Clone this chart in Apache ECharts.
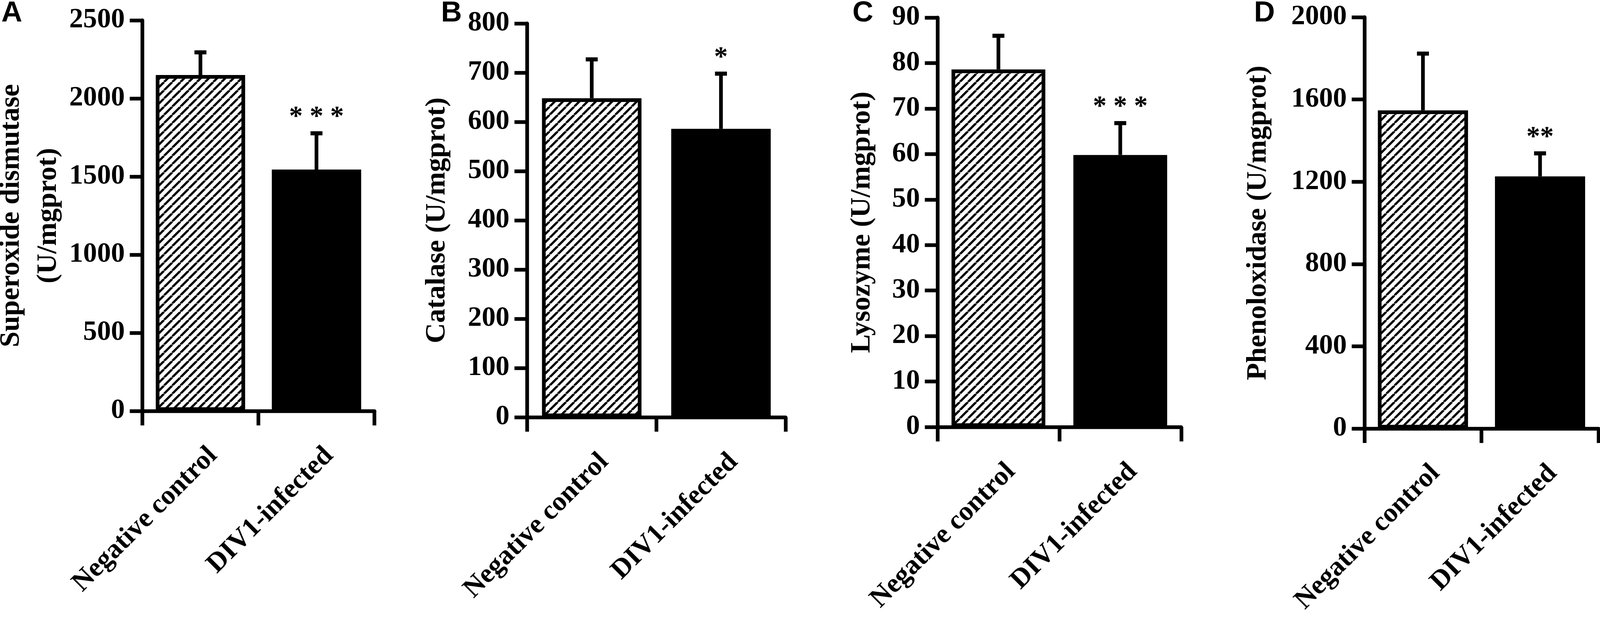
<!DOCTYPE html>
<html>
<head>
<meta charset="utf-8">
<title>Enzyme activity</title>
<script src="https://cdn.jsdelivr.net/npm/echarts@6/dist/echarts.min.js"></script>
<style>
html, body { margin: 0; padding: 0; background: #fff; overflow: hidden; }
#main { width: 100vw; height: 100vh; }
</style>
</head>
<body>
<div id="main"></div>
<script>
// groups on the x axis
var groups = ['Negative control', 'DIV1-infected'];

// mean and upper error (SD)
var sodMean = [2150, 1545];
var sodSd = [145, 232];
var catMean = [648, 586];
var catSd = [79, 112];
var lysMean = [78.6, 59.8];
var lysSd = [7.4, 7.0];
var poMean = [1547, 1226];
var poSd = [276, 112];

// y axis ranges
var yMax = [2500, 800, 90, 2000];
var yStep = [500, 100, 10, 400];

var yNames = ['Superoxide dismutase\n(U/mgprot)', 'Catalase (U/mgprot)', 'Lysozyme (U/mgprot)', 'Phenoloxidase (U/mgprot)'];
var letters = ['A', 'B', 'C', 'D'];
var stars = ['* * *', '*', '* * *', '**'];

var means = [sodMean, catMean, lysMean, poMean];
var sds = [sodSd, catSd, lysSd, poSd];

// panel frames, designed on a 4550 x 1605 canvas (axis line positions)
var boxes = [
	{ l: 405, r: 1065, t: 52, b: 1052, gap: 214, letterX: 4 },
	{ l: 1499, r: 2234, t: 60, b: 1068, gap: 203, letterX: 1254 },
	{ l: 2666, r: 3359, t: 45, b: 1093, gap: 161, letterX: 2424 },
	{ l: 3880, r: 4546, t: 44, b: 1097, gap: 249, letterX: 3566 }
];
var W = 4550, H = 1605;

var el = document.getElementById('main');
var cw = el.clientWidth || W, ch = el.clientHeight || H;
var sx = cw / W, sy = ch / H, sf = Math.sqrt(sx * sy);
function X(v) { return v * sx; }
function Y(v) { return v * sy; }
function F(v) { return v * sf; }

var serif = '"Liberation Serif", "Times New Roman", serif';

function hatch() {
	var s = Math.max(6, Math.round(X(23)));
	var c = document.createElement('canvas');
	c.width = s; c.height = s;
	var g = c.getContext('2d');
	g.fillStyle = '#fff';
	g.fillRect(0, 0, s, s);
	g.strokeStyle = '#000';
	g.lineWidth = F(6);
	for (var k = -1; k <= 1; k++) {
		g.beginPath();
		g.moveTo(k * s, s);
		g.lineTo(k * s + s, 0);
		g.stroke();
	}
	return c;
}
var hatchFill = { image: hatch(), repeat: 'repeat' };

function plain(v) { return String(v); }

var grid = [], xAxis = [], yAxis = [], series = [], title = [];

boxes.forEach(function (bx, i) {
	grid.push({ left: X(bx.l), right: cw - X(bx.r), top: Y(bx.t), bottom: ch - Y(bx.b), outerBoundsMode: 'none' });
	title.push({
		text: letters[i], left: X(bx.letterX), top: Y(-2), padding: 0,
		textStyle: { fontFamily: '"Liberation Sans", Arial, sans-serif', fontWeight: 'bold', fontSize: F(78), color: '#000' }
	});
	xAxis.push({
		gridIndex: i, type: 'category', data: groups, boundaryGap: true,
		axisLine: { show: true, lineStyle: { color: '#000', width: F(10) } },
		axisTick: { show: true, interval: 0, length: Y(37), lineStyle: { color: '#000', width: F(10) } },
		axisLabel: { show: false },
		splitLine: { show: false }
	});
	yAxis.push({
		gridIndex: i, type: 'value', min: 0, max: yMax[i], interval: yStep[i],
		name: yNames[i], nameLocation: 'middle', nameGap: X(bx.gap),
		nameTextStyle: { fontFamily: serif, fontWeight: 'bold', fontSize: F(76), color: '#000', lineHeight: F(100) },
		axisLine: { show: true, lineStyle: { color: '#000', width: F(10) } },
		axisTick: { show: true, length: X(36), lineStyle: { color: '#000', width: F(10) } },
		axisLabel: { formatter: plain, fontFamily: serif, fontWeight: 'bold', fontSize: F(75), color: '#000', margin: X(50) },
		splitLine: { show: false }
	});

	series.push({
		type: 'bar', xAxisIndex: i, yAxisIndex: i, barWidth: '77%', silent: true,
		data: [
			{ value: means[i][0], itemStyle: { color: hatchFill, borderColor: '#000', borderWidth: F(10) } },
			{ value: means[i][1], itemStyle: { color: '#000' } }
		]
	});

	series.push({
		type: 'custom', xAxisIndex: i, yAxisIndex: i, silent: true, z: 5,
		data: means[i].map(function (m, j) { return [j, m, m + sds[i][j]]; }),
		renderItem: function (params, api) {
			var base = api.coord([api.value(0), api.value(1)]);
			var top = api.coord([api.value(0), api.value(2)]);
			var kids = [
				{ type: 'line', shape: { x1: base[0], y1: base[1], x2: top[0], y2: top[1] }, style: { stroke: '#000', lineWidth: F(10) } },
				{ type: 'line', shape: { x1: top[0] - X(17), y1: top[1], x2: top[0] + X(17), y2: top[1] }, style: { stroke: '#000', lineWidth: F(11) } }
			];
			if (params.dataIndex === 1) {
				kids.push({
					type: 'text', x: top[0], y: top[1] - Y(40),
					style: { text: stars[i], fontFamily: serif, fontWeight: 'bold', fontSize: F(74), fill: '#000', align: 'center', verticalAlign: 'middle' }
				});
			}
			return { type: 'group', children: kids };
		}
	});
});

// second set of grids, shifted a little right, only carrying the rotated group labels
boxes.forEach(function (bx, i) {
	grid.push({ left: X(bx.l + 36), right: cw - X(bx.r + 36), top: Y(bx.t), bottom: ch - Y(bx.b), outerBoundsMode: 'none' });
	xAxis.push({
		gridIndex: 4 + i, type: 'category', data: groups, boundaryGap: true,
		axisLine: { show: false }, axisTick: { show: false }, splitLine: { show: false },
		axisLabel: { interval: 0, rotate: 45, margin: Y(104), fontFamily: serif, fontWeight: 'bold', fontSize: F(74), color: '#000' }
	});
	yAxis.push({ gridIndex: 4 + i, type: 'value', min: 0, max: 1, show: false });
});

var myChart = echarts.init(el);
myChart.setOption({
	animation: false,
	backgroundColor: '#fff',
	title: title,
	grid: grid,
	xAxis: xAxis,
	yAxis: yAxis,
	series: series
});
</script>
</body>
</html>
